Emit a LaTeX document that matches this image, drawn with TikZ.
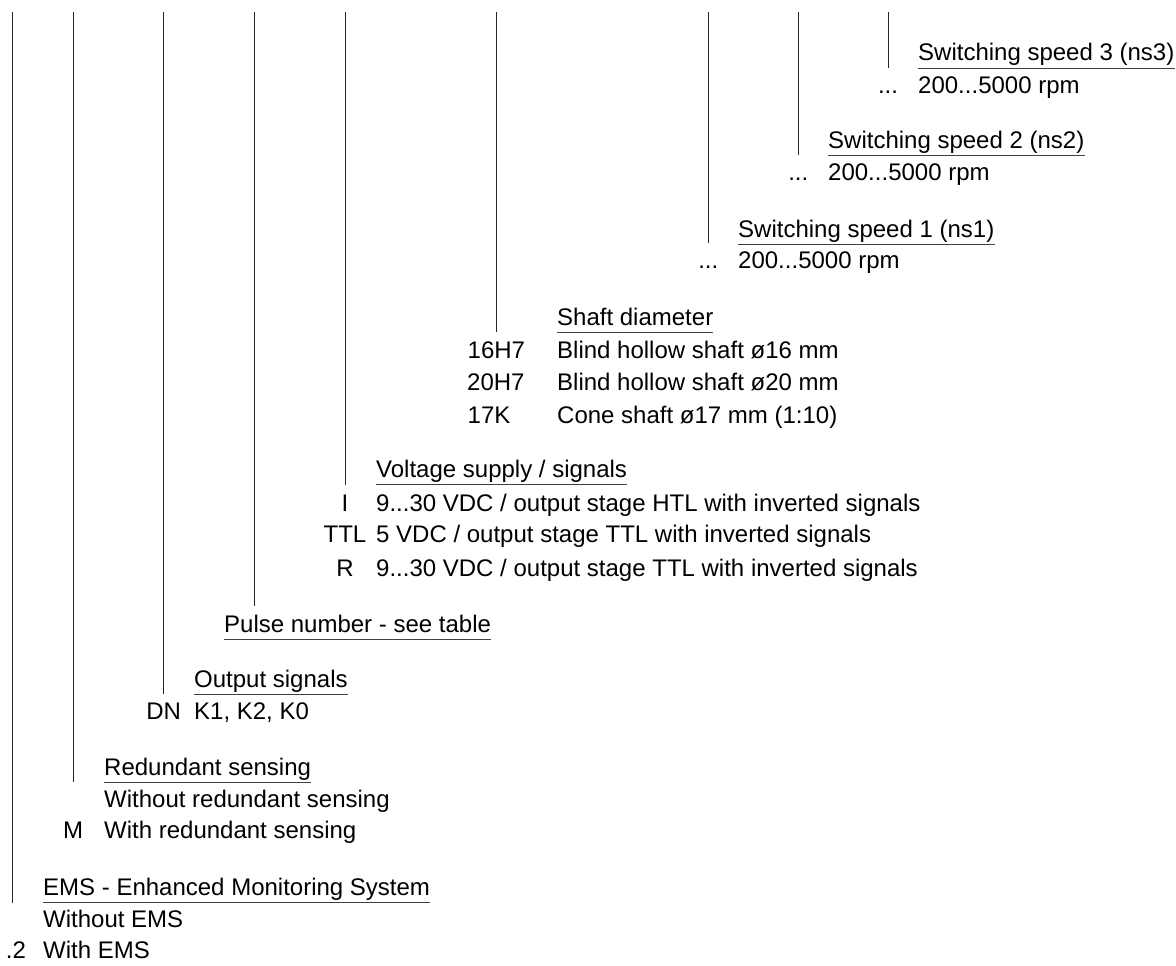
\documentclass[tikz,border=0pt]{standalone}
\usepackage{fontspec}
\setmainfont{Liberation Sans}
\begin{document}
\begin{tikzpicture}[x=1pt,y=-1pt,
  txt/.style={inner sep=0pt, anchor=base west, font=\fontsize{24}{32}\selectfont},
  code/.style={inner sep=0pt, anchor=base, font=\fontsize{24}{32}\selectfont},
  lcode/.style={inner sep=0pt, anchor=base west, font=\fontsize{24}{32}\selectfont},
  vline/.style={draw=black!85, line width=0.9pt},
  uline/.style={draw=black!75, line width=0.9pt}]
\useasboundingbox (0,0) rectangle (1176,966);

% tops of the vertical lines
\coordinate (t1) at (12.7,12);
\coordinate (t2) at (73,12);
\coordinate (t3) at (163.7,12);
\coordinate (t4) at (254.3,12);
\coordinate (t5) at (345,12);
\coordinate (t6) at (496.5,12);
\coordinate (t7) at (708.3,12);
\coordinate (t8) at (798.3,12);
\coordinate (t9) at (888,12);

% Switching speed 3
\node[txt] (h9) at (918,61) {Switching speed 3 (ns3)};
\node[code] (c9) at (888,93) {...};
\node[txt] (v9) at (918,93) {200...5000 rpm};
% Switching speed 2
\node[txt] (h8) at (828,148) {Switching speed 2 (ns2)};
\node[code] (c8) at (798.3,180) {...};
\node[txt] (v8) at (828,180) {200...5000 rpm};
% Switching speed 1
\node[txt] (h7) at (738,237) {Switching speed 1 (ns1)};
\node[code] (c7) at (708.3,268) {...};
\node[txt] (v7) at (738,268) {200...5000 rpm};
% Shaft diameter
\node[txt] (h6) at (557,325) {Shaft diameter};
\node[lcode] (c6a) at (467.5,358) {16H7};
\node[txt] (v6a) at (557,358) {Blind hollow shaft ø16 mm};
\node[lcode] (c6b) at (467,390) {20H7};
\node[txt] (v6b) at (557,390) {Blind hollow shaft ø20 mm};
\node[lcode] (c6c) at (467.5,423) {17K};
\node[txt] (v6c) at (557,423) {Cone shaft ø17 mm (1:10)};
% Voltage supply
\node[txt] (h5) at (376,477) {Voltage supply / signals};
\node[code] (c5a) at (345,511) {I};
\node[txt] (v5a) at (376,511) {9...30 VDC / output stage HTL with inverted signals};
\node[code] (c5b) at (345,542) {TTL};
\node[txt] (v5b) at (376,542) {5 VDC / output stage TTL with inverted signals};
\node[code] (c5c) at (345,576) {R};
\node[txt] (v5c) at (376,576) {9...30 VDC / output stage TTL with inverted signals};
% Pulse number
\node[txt] (h4) at (224,632) {Pulse number - see table};
% Output signals
\node[txt] (h3) at (194,687) {Output signals};
\node[code] (c3) at (163.7,719) {DN};
\node[txt] (v3) at (194,719) {K1, K2, K0};
% Redundant sensing
\node[txt] (h2) at (104,775) {Redundant sensing};
\node[txt] (v2a) at (104,807) {Without redundant sensing};
\node[code] (c2) at (73,838) {M};
\node[txt] (v2b) at (104,838) {With redundant sensing};
% EMS
\node[txt] (h1) at (43,895) {EMS - Enhanced Monitoring System};
\node[txt] (v1a) at (43,927) {Without EMS};
\node[code] (c1) at (16,958) {.2};
\node[txt] (v1b) at (43,958) {With EMS};

% underlines
\foreach \h in {h1,h2,h3,h4,h5,h6,h7,h8,h9}
  \draw[uline] ([yshift=-7pt]\h.base west) -- ([yshift=-7pt]\h.base east);

% bottoms of the vertical lines
\coordinate (b1) at (12.7,903);
\coordinate (b2) at (73,782);
\coordinate (b3) at (163.7,694);
\coordinate (b4) at (254.3,606);
\coordinate (b5) at (345,485);
\coordinate (b6) at (496.5,332);
\coordinate (b7) at (708.3,243);
\coordinate (b8) at (798.3,155);
\coordinate (b9) at (888,68);

\foreach \i in {1,...,9}
  \draw[vline] (t\i) -- (b\i);
\end{tikzpicture}
\end{document}
